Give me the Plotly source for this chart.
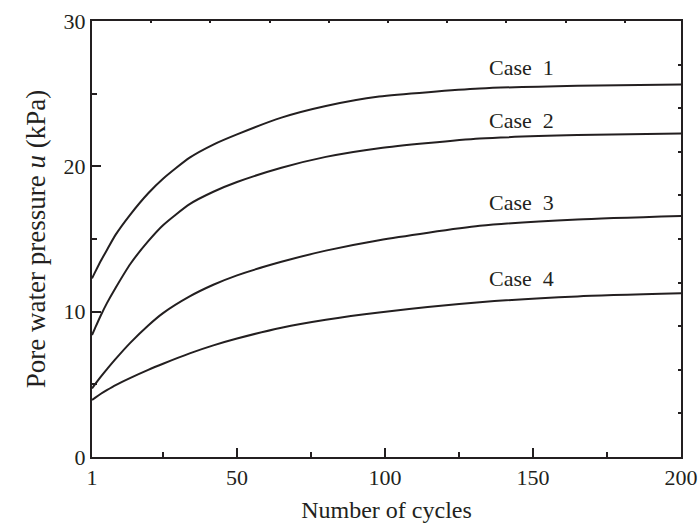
import plotly.graph_objects as go

# Pore water pressure development with loading cycles
cycles = [1, 2, 4, 6, 9, 14, 20, 25, 34, 42, 50, 65, 80, 98, 132, 165, 200]
case1 = [12.29, 12.7, 13.5, 14.23, 15.3, 16.7, 18.15, 19.15, 20.6, 21.5, 22.2, 23.35, 24.15, 24.8, 25.35, 25.55, 25.63]
case2 = [8.39, 8.85, 9.75, 10.57, 11.65, 13.3, 14.85, 15.95, 17.4, 18.25, 18.92, 19.9, 20.65, 21.25, 21.91, 22.15, 22.26]
case3 = [4.72, 5.0, 5.53, 6.03, 6.75, 7.87, 9.05, 9.9, 11.05, 11.85, 12.5, 13.43, 14.2, 14.92, 15.91, 16.35, 16.59]
case4 = [3.92, 4.07, 4.35, 4.6, 4.95, 5.45, 6.0, 6.42, 7.13, 7.68, 8.15, 8.9, 9.45, 9.95, 10.65, 11.05, 11.26]

case_names = ["Case  1", "Case  2", "Case  3", "Case  4"]
label_x = [146, 146, 146, 146]
label_y = [26.8, 23.15, 17.5, 12.25]

x_ticks = [1, 50, 100, 150, 200]
x_minor = [25, 75, 125, 175]
y_ticks = [0, 10, 20, 30]
y_minor = [5, 15, 25]
top_ticks = [21, 41, 61, 81, 101, 121, 141, 161, 181]
right_ticks = [0, 3, 6, 9, 12, 15, 18, 21, 24, 27, 30]

INK = "#231f20"
FONT = "Liberation Serif, Times New Roman, serif"

fig = go.Figure()
for ys in (case1, case2, case3, case4):
    fig.add_trace(go.Scatter(
        x=cycles, y=ys, mode="lines",
        line=dict(color=INK, width=2, shape="spline", smoothing=0.6),
        showlegend=False, hoverinfo="skip",
    ))

# helper trace so the secondary (top/right) tick axes are rendered
fig.add_trace(go.Scatter(x=[1, 200], y=[0, 30], xaxis="x2", yaxis="y2",
                         mode="markers", marker=dict(opacity=0),
                         showlegend=False, hoverinfo="skip"))

for name, lx, ly in zip(case_names, label_x, label_y):
    fig.add_annotation(x=lx, y=ly, text=name, showarrow=False,
                       font=dict(family=FONT, size=22, color=INK))

fig.update_layout(
    width=699, height=528,
    margin=dict(l=92, r=18, t=21, b=71),
    paper_bgcolor="white", plot_bgcolor="white",
    font=dict(family=FONT, size=22, color=INK),
    xaxis=dict(
        range=[1, 200], tickvals=x_ticks, ticktext=[str(v) for v in x_ticks],
        ticks="inside", ticklen=9, tickwidth=2, tickcolor=INK,
        showline=True, linewidth=2, linecolor=INK, mirror=True,
        showgrid=False, zeroline=False, automargin=False,
        minor=dict(tickvals=x_minor, ticks="inside", ticklen=5, tickwidth=2, tickcolor=INK),
        title=dict(text="Number of cycles", font=dict(size=24), standoff=12),
        tickfont=dict(size=22),
    ),
    yaxis=dict(
        range=[0, 30], tickvals=y_ticks,
        ticks="inside", ticklen=9, tickwidth=2, tickcolor=INK,
        showline=True, linewidth=2, linecolor=INK, mirror=True,
        showgrid=False, zeroline=False, automargin=False,
        minor=dict(tickvals=y_minor, ticks="inside", ticklen=5, tickwidth=2, tickcolor=INK),
        title=dict(text="Pore water pressure <i>u</i> (kPa)", font=dict(size=27), standoff=10),
        tickfont=dict(size=22),
    ),
    xaxis2=dict(
        overlaying="x", side="top", range=[1, 200], tickvals=top_ticks,
        ticks="inside", ticklen=2, tickwidth=1.5, tickcolor=INK,
        showticklabels=False, showgrid=False, zeroline=False, showline=False,
        automargin=False,
    ),
    yaxis2=dict(
        overlaying="y", side="right", range=[0, 30], tickvals=right_ticks,
        ticks="inside", ticklen=3, tickwidth=1.5, tickcolor=INK,
        showticklabels=False, showgrid=False, zeroline=False, showline=False,
        automargin=False,
    ),
)

fig.write_html("out.html")
